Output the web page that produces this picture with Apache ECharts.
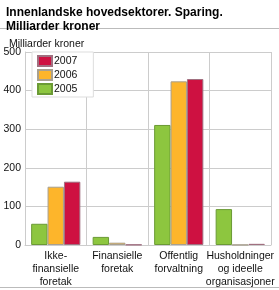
<!DOCTYPE html>
<html><head><meta charset="utf-8">
<script src="https://cdn.jsdelivr.net/npm/echarts@6/dist/echarts.min.js"></script>
<style>html,body{margin:0;padding:0;background:#fff}#c{width:279px;height:290px}</style>
</head><body><div id="c"></div>
<script>
var categories = ['Ikke-\nfinansielle\nforetak', 'Finansielle\nforetak', 'Offentlig\nforvaltning', 'Husholdninger\nog ideelle\norganisasjoner'];
var years = ['2005', '2006', '2007'];
var v2005 = [55, 21, 311, 93];
var v2006 = [151, 6, 424, 0.5];
var v2007 = [164, 1, 430, 3];
var yTicks = [0, 100, 200, 300, 400, 500];

var FONT = '"Liberation Sans", Arial, sans-serif';
var chart = echarts.init(document.getElementById('c'), null, {renderer: 'canvas'});
function mk(name, data, color, border) {
  return {name: name, type: 'bar', data: data, barGap: '0%', barCategoryGap: '20%',
    itemStyle: {color: color, borderColor: border, borderWidth: 1}, animation: false};
}
chart.setOption({
  animation: false,
  textStyle: {fontFamily: FONT},
  title: [
    {text: 'Innenlandske hovedsektorer. Sparing.\nMilliarder kroner', left: 1, top: 1,
     textStyle: {fontFamily: FONT, fontSize: 12, fontWeight: 'bold', color: '#000', lineHeight: 14}},
    {text: 'Milliarder kroner', left: 4, top: 34,
     textStyle: {fontFamily: FONT, fontSize: 10.5, fontWeight: 'normal', color: '#111'}}
  ],
  graphic: [
    {type: 'line', shape: {x1: 0, y1: 28.5, x2: 279, y2: 28.5}, style: {stroke: '#bbb', lineWidth: 1}},
    {type: 'line', shape: {x1: 0, y1: 287.5, x2: 279, y2: 287.5}, style: {stroke: '#bbb', lineWidth: 1}}
  ],
  legend: {
    orient: 'vertical', left: 32, top: 52, data: ['2007', '2006', '2005'],
    itemWidth: 14, itemHeight: 10, itemGap: 2, padding: [3, 16, 2, 5],
    backgroundColor: '#fff', borderColor: '#ddd', borderWidth: 1,
    textStyle: {fontFamily: FONT, fontSize: 10.5, color: '#111', padding: [0, 0, 0, -3]},
    icon: 'rect'
  },
  grid: {left: 25, right: 8, top: 52, bottom: 45, containLabel: false},
  xAxis: {
    type: 'category', data: categories,
    axisLine: {lineStyle: {color: '#ccc'}},
    axisTick: {show: false},
    splitLine: {show: true, lineStyle: {color: '#ccc', width: 1}},
    axisLabel: {interval: 0, fontFamily: FONT, fontSize: 10.5, color: '#111', lineHeight: 13, margin: 5}
  },
  yAxis: {
    type: 'value', min: yTicks[0], max: yTicks[yTicks.length - 1], interval: 100,
    axisLine: {show: true, lineStyle: {color: '#ccc'}},
    axisTick: {show: false},
    splitLine: {lineStyle: {color: '#ccc', width: 1}},
    axisLabel: {fontFamily: FONT, fontSize: 10.5, color: '#111', margin: 4}
  },
  series: [
    mk('2005', v2005, '#8DC63F', '#6B9A35'),
    mk('2006', v2006, '#FDB52B', '#A8A090'),
    mk('2007', v2007, '#CE1141', '#A07080')
  ]
});
</script></body></html>
